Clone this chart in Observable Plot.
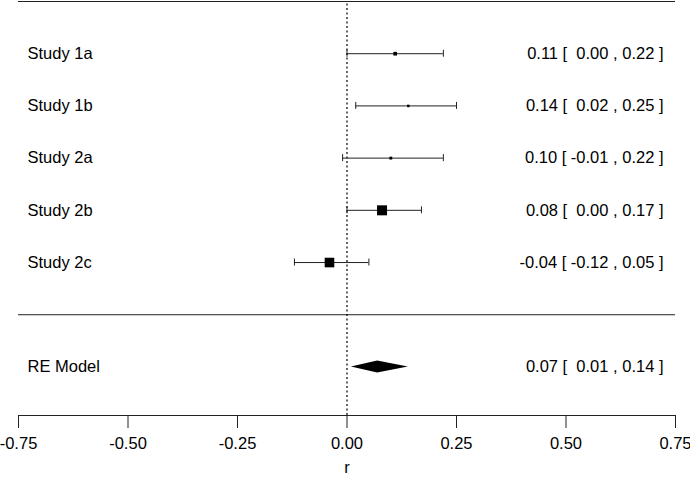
<!DOCTYPE html>
<html><head><meta charset="utf-8">
<script src="https://cdn.jsdelivr.net/npm/d3@7"></script>
<script src="https://cdn.jsdelivr.net/npm/@observablehq/plot@0.6"></script>
<style>body{margin:0;background:#fff} svg text{white-space:pre}</style>
</head><body><div id="chart"></div>
<script>
const studies = ["Study 1a", "Study 1b", "Study 2a", "Study 2b", "Study 2c"];
const estimates = [0.11, 0.14, 0.10, 0.08, -0.04];
const lower = [0.00, 0.02, -0.01, 0.00, -0.12];
const upper = [0.22, 0.25, 0.22, 0.17, 0.05];
const weights = [15.3, 12.6, 13.4, 29.8, 28.9];
const summaryLabel = "RE Model";
const summaryEstimate = [0.07];
const summaryLower = [0.01];
const summaryUpper = [0.14];
const xTicks = [-0.75, -0.50, -0.25, 0.00, 0.25, 0.50, 0.75];
const xLabel = "r";

const W = 690, H = 478, mL = 18, mR = 15, mT = 1, mB = 63;
const topRow = studies.length + 1, sepRow = 0, summaryRow = -1, axisRow = -1.93;
const pxPerRow = (H - mB - mT) / (topRow - axisRow);
const capHalf = 3.5 / pxPerRow;
const diamondHalf = 6 / pxPerRow;
const xMin = xTicks[0], xMax = xTicks[xTicks.length - 1];

const fmt = v => v.toFixed(2);
const lbW = Math.max(...lower.concat(summaryLower).map(v => fmt(v).length));
const ubW = Math.max(...upper.concat(summaryUpper).map(v => fmt(v).length));
const annot = (e, l, u) => `${fmt(e)} [ ${fmt(l).padStart(lbW)} , ${fmt(u).padStart(ubW)} ]`;

const rows = studies.map((s, i) => ({
  label: s, est: estimates[i], lo: lower[i], hi: upper[i], w: weights[i],
  row: studies.length - i, ann: annot(estimates[i], lower[i], upper[i])
}));
const summary = [{label: summaryLabel, row: summaryRow,
  ann: annot(summaryEstimate[0], summaryLower[0], summaryUpper[0])}];
const diamond = [
  {x: summaryLower[0], y1: summaryRow, y2: summaryRow},
  {x: summaryEstimate[0], y1: summaryRow - diamondHalf, y2: summaryRow + diamondHalf},
  {x: summaryUpper[0], y1: summaryRow, y2: summaryRow}
];
const allRows = rows.concat(summary);

const chart = Plot.plot({
  width: W, height: H,
  marginLeft: mL, marginRight: mR, marginTop: mT, marginBottom: mB,
  style: {fontFamily: "Liberation Sans, Arial, sans-serif", fontSize: "16.5px", background: "#fff", overflow: "visible"},
  x: {domain: [xMin, xMax]},
  y: {domain: [axisRow, topRow], axis: null},
  r: {type: "linear", domain: [12.6, 29.8], range: [2.5 / Math.sqrt(Math.PI), 10 / Math.sqrt(Math.PI)]},
  marks: [
    Plot.ruleY([topRow, sepRow], {x1: xMin, x2: xMax, stroke: "#222"}),
    Plot.ruleY([axisRow], {x1: xMin, x2: xMax, stroke: "#222"}),
    Plot.ruleX([0], {y1: axisRow, y2: topRow, stroke: "#000", strokeWidth: 1.2, strokeDasharray: "2,2.5"}),
    Plot.ruleY(rows, {y: "row", x1: "lo", x2: "hi", stroke: "#222"}),
    Plot.ruleX(rows, {x: "lo", y1: d => d.row - capHalf, y2: d => d.row + capHalf, stroke: "#222"}),
    Plot.ruleX(rows, {x: "hi", y1: d => d.row - capHalf, y2: d => d.row + capHalf, stroke: "#222"}),
    Plot.dot(rows, {x: "est", y: "row", r: "w", symbol: "square", fill: "black"}),
    Plot.areaY(diamond, {x: "x", y1: "y1", y2: "y2", fill: "black", curve: "linear"}),
    Plot.text(allRows, {y: "row", text: "label", frameAnchor: "left", textAnchor: "start", dx: 9, fill: "black"}),
    Plot.text(allRows, {y: "row", text: "ann", frameAnchor: "right", textAnchor: "end", dx: -12, fill: "black"}),
    Plot.axisX({ticks: xTicks, tickSize: 13, tickPadding: 9, tickFormat: fmt, label: null, fontSize: 16.5, stroke: "#222"}),
    Plot.text([xLabel], {text: d => d, frameAnchor: "bottom", dy: 57, fill: "black"})
  ]
});
document.getElementById("chart").appendChild(chart);
</script>
</body></html>
